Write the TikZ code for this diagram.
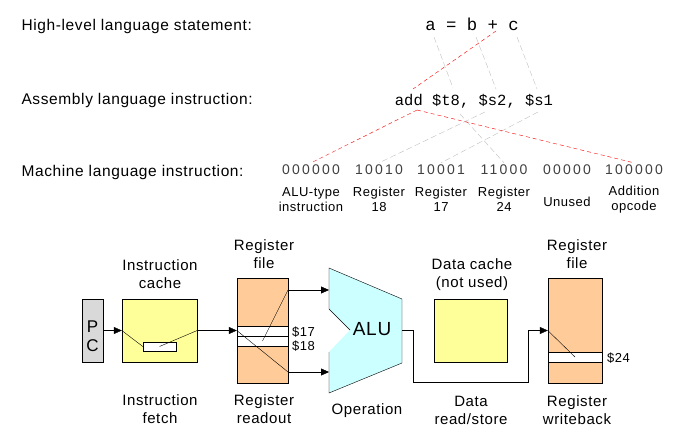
\documentclass[tikz,border=0pt]{standalone}
\usepackage{fontspec}
\setmainfont{Liberation Sans}[LetterSpace=4]
\newfontfamily\codefont{Liberation Mono}
\newfontfamily\bitfont[LetterSpace=16]{Liberation Sans}
\usepackage{tikz}
\usetikzlibrary{arrows.meta}
\definecolor{rfpeach}{HTML}{FFCC99}
\definecolor{cachey}{HTML}{FFFF99}
\definecolor{alucyan}{HTML}{CCFFFF}
\definecolor{pcgray}{HTML}{D9D9D9}
\definecolor{bitgray}{HTML}{404040}
\definecolor{mapgray}{HTML}{BFBFBF}
\begin{document}
\begin{tikzpicture}[
    x=1pt, y=-1pt,
    head/.style={anchor=west, font=\fontsize{15.5}{18}\selectfont},
    lbl/.style={align=center, font=\fontsize{15}{18}\selectfont},
    field/.style={align=center, font=\fontsize{13}{15}\selectfont},
    bits/.style={font=\bitfont\fontsize{14}{16}\selectfont, text=bitgray, inner sep=2pt},
    tag/.style={anchor=west, font=\fontsize{13}{15}\selectfont, inner sep=0pt},
    box/.style={rectangle, draw, inner sep=0pt},
    wire/.style={-{Triangle[length=8pt,width=7pt]}},
    redmap/.style={red, dash pattern=on 4pt off 3pt},
    graymap/.style={mapgray, dash pattern=on 6pt off 3pt},
]
    \useasboundingbox (0,0) rectangle (683,441);

    % the three levels
    \node[head] (hl-lbl) at (18,26) {High-level language statement:};
    \node[head] (as-lbl) at (18,100) {Assembly language instruction:};
    \node[head] (ml-lbl) at (18,172) {Machine language instruction:};

    \node[font=\codefont\fontsize{17.3}{20}\selectfont] (hll) at (472,24) {a = b + c};
    \node[font=\codefont\fontsize{15.5}{18}\selectfont] (asm) at (474,101) {add \$t8, \$s2, \$s1};

    \node[bits] (m-op) at (311,170) {000000};
    \node[bits] (m-rs) at (379,170) {10010};
    \node[bits] (m-rt) at (441,170) {10001};
    \node[bits] (m-rd) at (504,170) {11000};
    \node[bits] (m-sh) at (567,170) {00000};
    \node[bits] (m-fn) at (634,170) {100000};

    \node[field] (f-op) at (311,199.5) {ALU-type\\instruction};
    \node[field] (f-rs) at (379,199.5) {Register\\18};
    \node[field] (f-rt) at (441,199.5) {Register\\17};
    \node[field] (f-rd) at (504,199.5) {Register\\24};
    \node[field] (f-sh) at (567,202) {Unused};
    \node[field] (f-fn) at (634,199.5) {Addition\\opcode};

    % mapping lines
    \coordinate (plusF) at (496,31);
    \coordinate (addT) at (413,89);
    \coordinate (addB) at (417,110);
    \coordinate (aF) at (434,37);
    \coordinate (bF) at (476,37);
    \coordinate (cF) at (517,37);
    \coordinate (t8T) at (453,88);
    \coordinate (s2T) at (496,89);
    \coordinate (s1T) at (537,89);
    \coordinate (t8B) at (460,114);
    \coordinate (s2B) at (485,112);
    \coordinate (s1B) at (538,112);

    \draw[graymap] (aF) -- (t8T);
    \draw[graymap] (bF) -- (s2T);
    \draw[graymap] (cF) -- (s1T);
    \draw[graymap] (t8B) -- (m-rd.north);
    \draw[graymap] (s2B) -- (m-rs.north);
    \draw[graymap] (s1B) -- (m-rt.north);
    \draw[redmap] (plusF) -- (addT);
    \draw[redmap] (addB) -- (m-op.north);
    \draw[redmap] (addB) -- (m-fn.north);

    % datapath
    \node[box, fill=pcgray, minimum width=21pt, minimum height=63pt] (pc) at (92.5,330.5) {};
    \node[align=center, font=\fontsize{17}{19}\selectfont] (pc-txt) at (92.5,336.5) {P\\C};
    \node[box, fill=cachey, minimum width=75pt, minimum height=63pt] (icache) at (159.5,330.5) {};
    \node[box, fill=white, minimum width=33pt, minimum height=9pt] (islot) at (159.5,346.5) {};
    \draw (icache.west) -- (islot.west);
    \draw (islot.center) -- (icache.east);

    \node[box, fill=rfpeach, minimum width=51pt, minimum height=105pt] (regA) at (262.5,330.5) {};
    \node[box, fill=white, minimum width=51pt, minimum height=10pt] (s17) at (262.5,331) {};
    \node[box, fill=white, minimum width=51pt, minimum height=10pt] (s18) at (262.5,341) {};
    \node[tag] (t17) at (292,332) {\$17};
    \node[tag] (t18) at (292,346) {\$18};
    \coordinate (rTop) at (288,290);
    \coordinate (rBot) at (288,372);
    \draw (s18.center) -- (rTop);
    \draw (regA.west) -- (rBot);

    \draw[wire] (pc.east) -- (icache.west);
    \draw[wire] (icache.east) -- (regA.west);

    \fill[alucyan] (329,268) -- (402,299) -- (402,363) -- (329,393) -- (329,352) -- (350,330) -- (329,309) -- cycle;
    \draw (350,330) -- (329,309) -- (329,268) -- (402,299) -- (402,363) -- (329,393) -- (329,352);
    \node[font=\fontsize{19}{22}\selectfont] (alu) at (372,329) {ALU};
    \coordinate (aluA) at (329,290);
    \coordinate (aluB) at (329,372);
    \coordinate (aluOut) at (402,330);
    \draw[wire] (rTop) -- (aluA);
    \draw[wire] (rBot) -- (aluB);

    \node[box, fill=cachey, minimum width=73pt, minimum height=63pt] (dcache) at (470.5,330.5) {};

    \node[box, fill=rfpeach, minimum width=54pt, minimum height=105pt] (regB) at (575,330.5) {};
    \node[box, fill=white, minimum width=54pt, minimum height=10pt] (s24) at (575,357) {};
    \node[tag] (t24) at (607,358) {\$24};
    \draw (regB.west) -- (s24.center);

    \coordinate (d1) at (413,382);
    \coordinate (d2) at (528,382);
    \draw[wire] (aluOut) -| (d1) -- (d2) |- (regB.west);

    % stage labels
    \node[lbl] (l-ic) at (160,274) {Instruction\\cache};
    \node[lbl] (l-if) at (160,409.5) {Instruction\\fetch};
    \node[lbl] (l-rf) at (264,254) {Register\\file};
    \node[lbl] (l-rr) at (264,409.5) {Register\\readout};
    \node[lbl] (l-op) at (367,411) {Operation};
    \node[lbl] (l-dc) at (472,274.5) {Data cache\\(not used)};
    \node[lbl] (l-ds) at (471,410) {Data\\read/store};
    \node[lbl] (l-rf2) at (577,254) {Register\\file};
    \node[lbl] (l-wb) at (577,410) {Register\\writeback};
\end{tikzpicture}
\end{document}
